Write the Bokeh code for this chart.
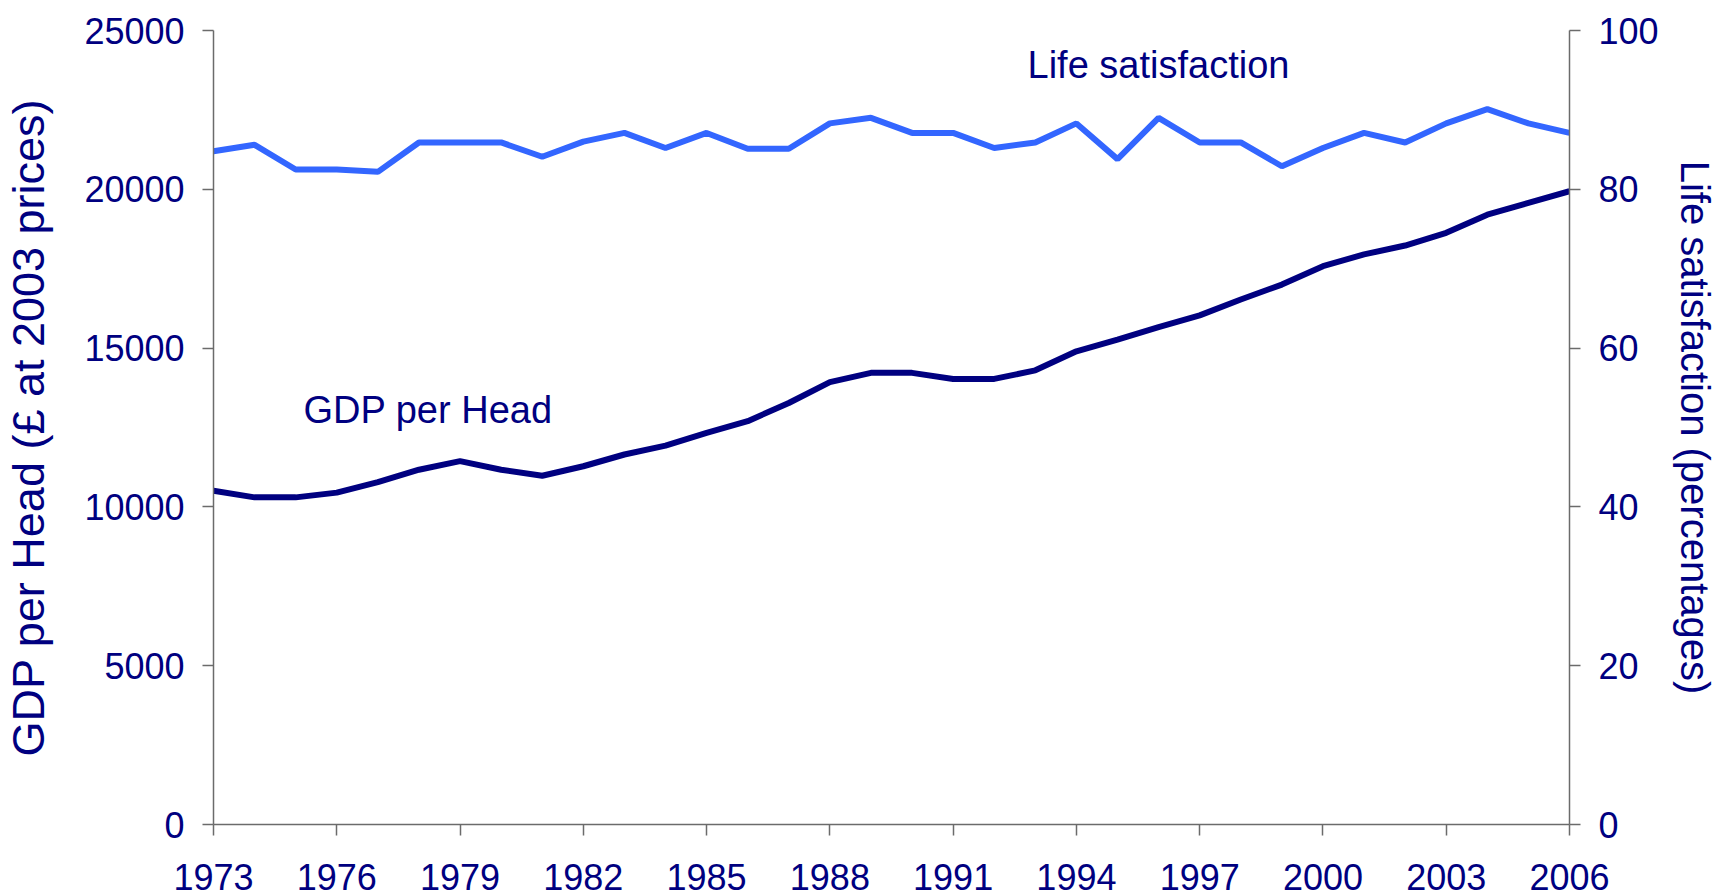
from bokeh.plotting import figure
from bokeh.models import Range1d, LinearAxis, FixedTicker, Label
from bokeh.embed import file_html
from bokeh.resources import INLINE

# ---- data ----
years = list(range(1973, 2007))
gdp_per_head = [10510, 10300, 10300, 10450, 10780, 11170, 11440, 11170, 10980, 11280,
                11650, 11930, 12330, 12700, 13270, 13930, 14220, 14220, 14030, 14030,
                14300, 14900, 15270, 15660, 16030, 16530, 17000, 17580, 17950, 18230,
                18630, 19200, 19570, 19940]
life_satisfaction = [84.8, 85.6, 82.5, 82.5, 82.2, 85.9, 85.9, 85.9, 84.1, 86.0,
                     87.1, 85.2, 87.1, 85.1, 85.1, 88.3, 89.0, 87.1, 87.1, 85.2,
                     85.9, 88.3, 83.8, 89.0, 85.9, 85.9, 82.9, 85.2, 87.1, 85.9,
                     88.3, 90.1, 88.3, 87.1]
x_ticks = list(range(1973, 2007, 3))
gdp_ticks = [0, 5000, 10000, 15000, 20000, 25000]
life_ticks = [0, 20, 40, 60, 80, 100]

NAVY = "#000080"
BLUE = "#3366FF"
AXIS_GREY = "#6b6b6b"
FONT = "Liberation Sans"

p = figure(width=1719, height=896, output_backend="svg", toolbar_location=None,
           x_range=Range1d(1973, 2006), y_range=Range1d(0, 25000),
           min_border_left=210, min_border_right=150, min_border_top=30,
           min_border_bottom=72, y_axis_location=None)
p.extra_y_ranges = {"life": Range1d(0, 100)}
p.outline_line_color = None
p.xgrid.visible = False
p.ygrid.visible = False
p.background_fill_color = "white"
p.border_fill_color = "white"

def style_axis(ax, label_size, title_size):
    ax.axis_line_color = AXIS_GREY
    ax.axis_line_width = 1.5
    ax.major_tick_line_color = AXIS_GREY
    ax.major_tick_line_width = 1.5
    ax.major_tick_out = 11
    ax.major_tick_in = 0
    ax.minor_tick_line_color = None
    ax.major_label_text_color = NAVY
    ax.major_label_text_font = FONT
    ax.major_label_text_font_size = f"{label_size}px"
    ax.axis_label_text_color = NAVY
    ax.axis_label_text_font = FONT
    ax.axis_label_text_font_style = "normal"
    ax.axis_label_text_font_size = f"{title_size}px"

# bottom axis
xa = p.xaxis[0]
xa.ticker = FixedTicker(ticks=x_ticks)
style_axis(xa, 36, 36)
xa.major_label_standoff = 28
xa.major_label_text_line_height = 0.9

# left axis
ly = LinearAxis(ticker=FixedTicker(ticks=gdp_ticks),
                axis_label="GDP per Head (£ at 2003 prices)")
style_axis(ly, 36, 45)
ly.major_label_standoff = 18
ly.axis_label_standoff = 27
p.add_layout(ly, "left")

# right axis
ry = LinearAxis(y_range_name="life", ticker=FixedTicker(ticks=life_ticks),
                axis_label="Life satisfaction (percentages)")
style_axis(ry, 36, 40)
ry.major_label_standoff = 18
ry.axis_label_standoff = 11
p.add_layout(ry, "right")

# lines
p.line(years, life_satisfaction, y_range_name="life", line_color=BLUE, line_width=6)
p.line(years, gdp_per_head, line_color=NAVY, line_width=6)

# annotations
gdp_label_pos = (1975.19, 13040)
life_label_pos = (1992.81, 95.7)
p.add_layout(Label(x=gdp_label_pos[0], y=gdp_label_pos[1], text="GDP per Head",
                   text_color=NAVY, text_font=FONT, text_font_size="38px",
                   text_baseline="alphabetic", text_align="left"))
p.add_layout(Label(x=life_label_pos[0], y=life_label_pos[1], y_range_name="life",
                   text="Life satisfaction", text_color=NAVY, text_font=FONT,
                   text_font_size="38px", text_baseline="alphabetic", text_align="left"))

open("out.html", "w").write(file_html(p, INLINE))
